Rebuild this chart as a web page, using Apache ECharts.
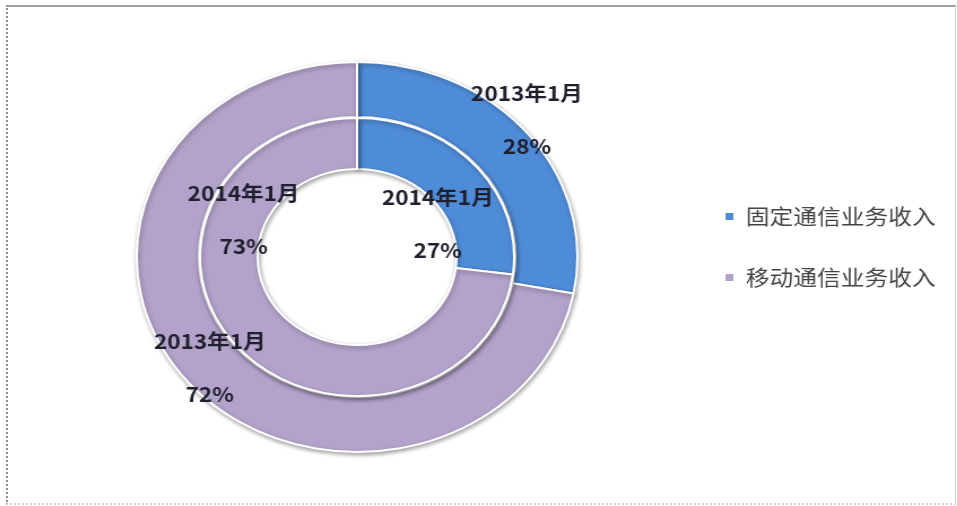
<!DOCTYPE html>
<html>
<head>
<meta charset="utf-8">
<script src="https://cdn.jsdelivr.net/npm/echarts@6/dist/echarts.min.js"></script>
<style>
  html, body { margin: 0; padding: 0; background: #fff; overflow: hidden; }
  .frame {
    position: absolute; left: 6px; top: 5px; width: 947px; height: 496px;
    border-top: 2px solid #a0a0a0; border-left: 2px dotted #909090;
    border-right: 1px solid #d0d0d0; border-bottom: 2px dotted #d8d8d8;
  }
  /* 原图整体横向拉伸，这里用 scaleX 还原椭圆的效果 */
  #chart {
    position: absolute; left: 0; top: 0; width: 847px; height: 506px;
    transform: scaleX(1.13); transform-origin: 0 0;
  }
</style>
</head>
<body>
<div class="frame"></div>
<div id="chart"></div>
<script>
// 数据
var categories = ["固定通信业务收入", "移动通信业务收入"];
var periods = ["2013年1月", "2014年1月"];   // 外环, 内环
var values2013 = [28, 72];
var values2014 = [27, 73];

var colors = ["#4f8cd8", "#b3a3ca"];

// 标签微调（参照原图 Excel 的摆放）
var labelShift = [
    [[19, -28], [1, 2]],      // 外环
    [[-16, 44], [-13, -114]]  // 内环
];

var chart = echarts.init(document.getElementById("chart"));

function ring(name, vals, radius) {
    return {
        name: name,
        type: "pie",
        center: [316, 257],
        radius: radius,
        startAngle: 90,
        clockwise: true,
        silent: true,
        itemStyle: {
            borderColor: "#ffffff",
            borderWidth: 2,
            shadowBlur: 4,
            shadowColor: "rgba(0,0,0,0.35)",
            shadowOffsetX: 1,
            shadowOffsetY: 2
        },
        label: {
            show: true,
            position: "inside",
            formatter: "{a}\n{c}%",
            color: "#1f1f2e",
            fontSize: 20,
            fontWeight: "bold",
            lineHeight: 53,
            fontFamily: "Noto Sans CJK SC"
        },
        labelLine: { show: false },
        labelLayout: function (p) {
            var s = labelShift[p.seriesIndex][p.dataIndex];
            return { dx: s[0], dy: s[1] };
        },
        data: categories.map(function (c, i) {
            return { name: c, value: vals[i] };
        })
    };
}

chart.setOption({
    backgroundColor: "rgba(0,0,0,0)",
    color: colors,
    animation: false,
    legend: {
        orient: "vertical",
        left: 635,
        top: 201,
        itemWidth: 9,
        itemHeight: 9,
        itemGap: 40,
        icon: "rect",
        textStyle: {
            color: "#444",
            fontSize: 21,
            padding: [0, 0, 0, 5],
            fontFamily: "Noto Sans CJK SC"
        },
        data: categories
    },
    series: [
        ring(periods[0], values2013, [140, 195]),
        ring(periods[1], values2014, [88, 139])
    ]
});
</script>
</body>
</html>
